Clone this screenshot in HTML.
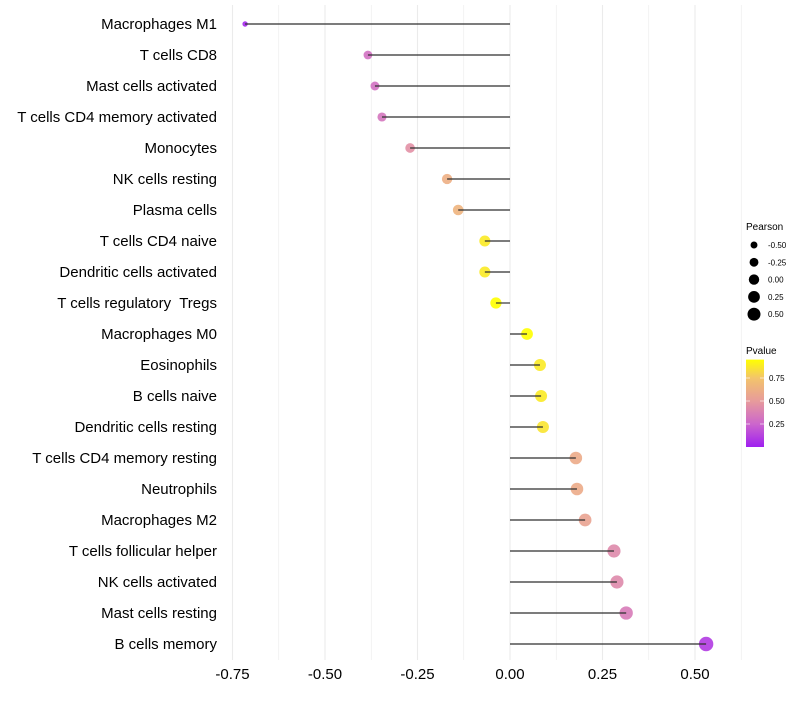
<!DOCTYPE html>
<html><head><meta charset="utf-8"><style>
body{margin:0;background:#fff;font-family:"Liberation Sans",sans-serif}
text{white-space:pre}
</style></head><body>
<svg id="chart" width="800" height="700" xmlns="http://www.w3.org/2000/svg"></svg>
<script>
const categories=["Macrophages M1","T cells CD8","Mast cells activated","T cells CD4 memory activated","Monocytes","NK cells resting","Plasma cells","T cells CD4 naive","Dendritic cells activated","T cells regulatory  Tregs","Macrophages M0","Eosinophils","B cells naive","Dendritic cells resting","T cells CD4 memory resting","Neutrophils","Macrophages M2","T cells follicular helper","NK cells activated","Mast cells resting","B cells memory"];
const pearson=[-0.716,-0.384,-0.365,-0.346,-0.27,-0.17,-0.14,-0.068,-0.068,-0.038,0.046,0.081,0.084,0.089,0.178,0.181,0.203,0.281,0.289,0.314,0.53];
const pvalue=[0.03,0.3,0.3,0.32,0.45,0.62,0.65,0.88,0.88,0.95,0.95,0.88,0.88,0.86,0.6,0.6,0.55,0.42,0.42,0.35,0.1];
const xTicks=[-0.75,-0.5,-0.25,0,0.25,0.5];
const xTickLabels=["-0.75","-0.50","-0.25","0.00","0.25","0.50"];
const sizeLegend=[-0.5,-0.25,0,0.25,0.5];
const sizeLegendLabels=["-0.50","-0.25","0.00","0.25","0.50"];
const pTicks=[0.25,0.5,0.75];
const pTickLabels=["0.25","0.50","0.75"];

const svg=document.getElementById('chart');
const NS="http://www.w3.org/2000/svg";
const X=v=>510+v*370;
const Y=i=>24+i*31;
const R=v=>Math.sqrt(Math.max(33+36*v,4));
const RL=v=>Math.sqrt(27+30*v);
const stops=[[0,[159,31,240]],[0.25,[204,102,204]],[0.5,[231,155,155]],[0.75,[243,196,107]],[0.95,[255,255,0]]];
function col(p){
  for(let i=0;i<stops.length-1;i++){const a=stops[i],b=stops[i+1];
    if(p<=b[0]||i==stops.length-2){const t=Math.max(0,Math.min(1,(p-a[0])/(b[0]-a[0])));
      return `rgb(${a[1].map((c,k)=>Math.round(c+(b[1][k]-c)*t)).join(',')})`;}}
}
function el(tag,attrs,parent){const e=document.createElementNS(NS,tag);for(const k in attrs)e.setAttribute(k,attrs[k]);(parent||svg).appendChild(e);return e;}

// grid
for(let v=-0.75;v<=0.625;v+=0.125){
  const g=el('line',{x1:X(v),x2:X(v),y1:5,y2:660,stroke:'#ebebeb','stroke-width':Math.abs(v*4-Math.round(v*4))<1e-6?1.1:0.6});
  
  
}
// x ticks
xTicks.forEach((v,i)=>{
  const t=el('text',{x:X(v),y:679,'text-anchor':'middle','font-size':15,fill:'#000'});
  t.textContent=xTickLabels[i];
  
  
});
// rows
categories.forEach((c,i)=>{
  const t=el('text',{x:217,y:Y(i)+5,'text-anchor':'end','font-size':15,fill:'#000'});
  t.textContent=c;
  
  
  const p=el('circle',{cx:X(pearson[i]),cy:Y(i),r:R(pearson[i]),fill:col(pvalue[i]),'fill-opacity':0.9});
  
  
  const l=el('line',{x1:X(0),x2:X(pearson[i]),y1:Y(i),y2:Y(i),stroke:'#333','stroke-width':1.4,'stroke-opacity':0.85});
  
  
});
// size legend
const st=el('text',{x:746,y:230,'font-size':10,fill:'#000'});st.textContent='Pearson';


sizeLegend.forEach((v,i)=>{
  const cy=245+i*17.3;
  const c=el('circle',{cx:754,cy:cy,r:RL(v),fill:'#000'});
  
  
  const t=el('text',{x:768,y:cy+3,'font-size':8,fill:'#000'});t.textContent=sizeLegendLabels[i];
  
  
});
// colorbar
const ct=el('text',{x:746,y:354,'font-size':10,fill:'#000'});ct.textContent='Pvalue';


const defs=el('defs',{});
const grad=el('linearGradient',{id:'pg',x1:0,y1:1,x2:0,y2:0},defs);
stops.forEach(s=>el('stop',{offset:s[0]/0.95,'stop-color':`rgb(${s[1].join(',')})`},grad));
const PY=p=>447-p*92;
const bar=el('rect',{x:746,y:PY(0.95),width:18,height:PY(0)-PY(0.95),fill:'url(#pg)'});


pTicks.forEach((p,i)=>{
  el('line',{x1:746,x2:750,y1:PY(p),y2:PY(p),stroke:'#fff','stroke-opacity':0.6});
  el('line',{x1:760,x2:764,y1:PY(p),y2:PY(p),stroke:'#fff','stroke-opacity':0.6});
  const t=el('text',{x:769,y:PY(p)+3,'font-size':8,fill:'#000'});t.textContent=pTickLabels[i];
  
  
});
</script>
</body></html>
